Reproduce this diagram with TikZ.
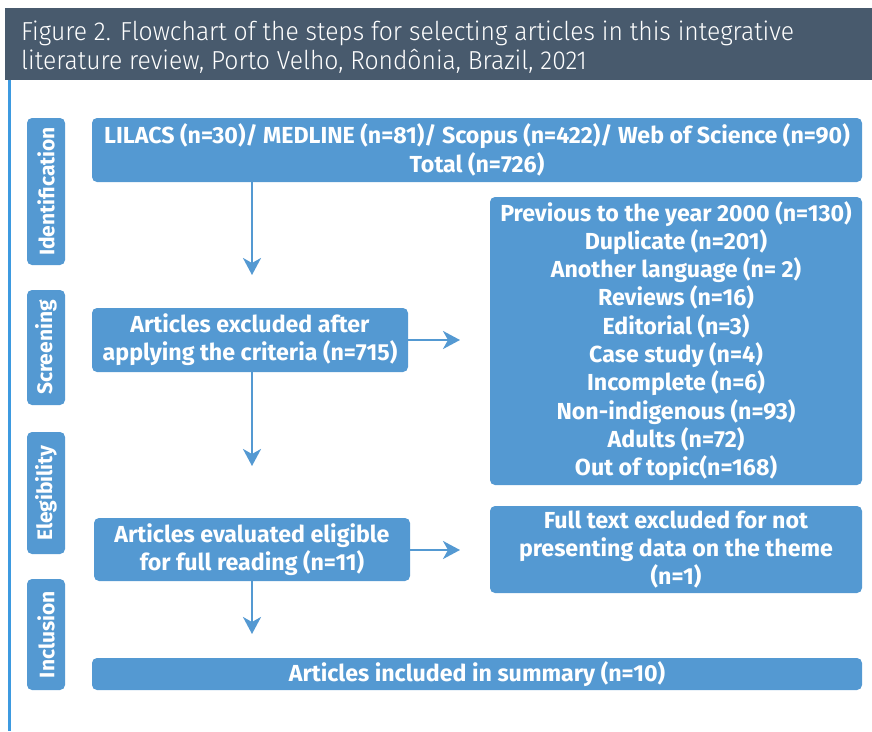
\documentclass[tikz,border=0pt]{standalone}
\usepackage{fontspec}
\setmainfont{Fira Sans}
\newfontfamily\titlefont[FakeStretch=0.95]{Fira Sans Light}
\usetikzlibrary{arrows.meta}

\definecolor{boxblue}{HTML}{5499D2}
\definecolor{headslate}{HTML}{485A6D}
\definecolor{lineblue}{HTML}{3D9AE0}

\begin{document}
\begin{tikzpicture}[x=1pt,y=-1pt,
    box/.style={fill=boxblue,rounded corners=5pt,text=white,align=center,
        font=\fontsize{23.2}{28.3}\selectfont\bfseries,inner sep=0pt},
    tab/.style={fill=boxblue,rounded corners=5pt,text=white,rotate=90,
        font=\fontsize{21}{24}\selectfont\bfseries,minimum height=38pt,inner sep=0pt},
    flow/.style={draw=boxblue,line width=2.5pt,
        -{Stealth[length=17pt,width=18pt,inset=5pt]}}]

    \useasboundingbox (0,0) rectangle (872,731);

    % header
    \fill[headslate] (5,8) rectangle (872,80);
    \node[anchor=west,text=white,align=left,inner sep=0pt,
        font=\titlefont\fontsize{26}{28.5}\selectfont] (title) at (21,47)
        {Figure 2. Flowchart of the steps for selecting articles in this integrative\\
         literature review, Porto Velho, Rondônia, Brazil, 2021};
    \fill[lineblue] (8,80) rectangle (11,731);

    % stages
    \node[tab,minimum width=147pt] (ident) at (46,191.5) {Identification};
    \node[tab,minimum width=115pt] (screen) at (46,347.5) {Screening};
    \node[tab,minimum width=122pt] (elig) at (46,493) {Elegibility};
    \node[tab,minimum width=111pt] (incl) at (46,634.5) {Inclusion};

    % boxes
    \node[box,minimum width=770pt,minimum height=64pt] (records) at (477,150)
        {LILACS (n=30)/ MEDLINE (n=81)/ Scopus (n=422)/ Web of Science (n=90)\\
         Total (n=726)};
    \node[box,minimum width=316pt,minimum height=64pt] (excluded) at (250,340)
        {Articles excluded after\\applying the criteria (n=715)};
    \node[box,minimum width=372pt,minimum height=288pt] (reasons) at (676,341)
        {Previous to the year 2000 (n=130)\\
         Duplicate (n=201)\\
         Another language (n= 2)\\
         Reviews (n=16)\\
         Editorial (n=3)\\
         Case study (n=4)\\
         Incomplete (n=6)\\
         Non-indigenous (n=93)\\
         Adults (n=72)\\
         Out of topic(n=168)};
    \node[box,minimum width=316pt,minimum height=63pt] (eligible) at (252,549.5)
        {Articles evaluated eligible\\for full reading (n=11)};
    \node[box,minimum width=372pt,minimum height=87pt] (fulltext) at (676,549.5)
        {Full text excluded for not\\presenting data on the theme\\(n=1)};
    \node[box,minimum width=770pt,minimum height=32pt] (included) at (477,674)
        {Articles included in summary (n=10)};

    % arrows
    \coordinate (a1) at (252,275);
    \coordinate (a2) at (252,466);
    \coordinate (a3) at (252,634);
    \coordinate (h1) at (460,340);
    \coordinate (h2) at (460,550);
    \draw[flow] (records.south -| a1) -- (a1);
    \draw[flow] (excluded.south -| a2) -- (a2);
    \draw[flow] (eligible.south -| a3) -- (a3);
    \draw[flow] (excluded.east |- h1) -- (h1);
    \draw[flow] (eligible.east |- h2) -- (h2);

\end{tikzpicture}
\end{document}
